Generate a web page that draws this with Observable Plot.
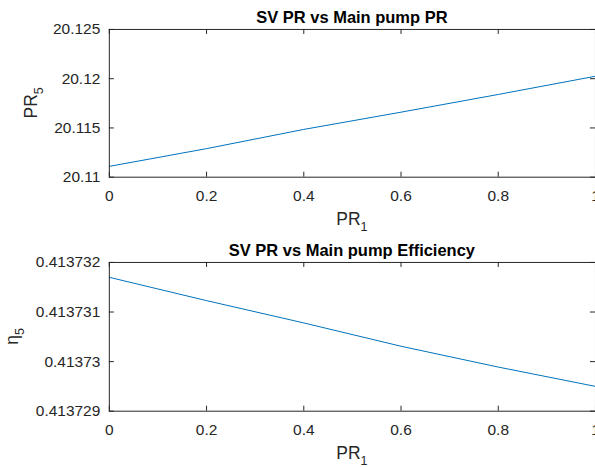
<!DOCTYPE html>
<html>
<head>
<meta charset="utf-8">
<script src="https://cdn.jsdelivr.net/npm/d3@7"></script>
<script src="https://cdn.jsdelivr.net/npm/@observablehq/plot@0.6"></script>
<style>
  body { margin: 0; background: #fff; }
  #chart { width: 595px; height: 467px; overflow: hidden; background: #fff; }
  #chart svg { display: block; }
</style>
</head>
<body>
<div id="chart"></div>
<script>
// Main pump pressure ratio (PR1) samples
const pr1 = [0, 0.2, 0.4, 0.6, 0.8, 1];
// SV pressure ratio (PR5) against PR1
const pr5 = [20.1111, 20.1129, 20.11485, 20.1166, 20.1184, 20.12025];
// SV efficiency (eta5) against PR1
const eta5 = [0.4137317, 0.41373123, 0.41373078, 0.41373031, 0.41372989, 0.4137295];

const xTicks = [0, 0.2, 0.4, 0.6, 0.8, 1];
const pr5Ticks = [20.11, 20.115, 20.12, 20.125];
const eta5Ticks = [0.413729, 0.41373, 0.413731, 0.413732];

const W = 596, MT = 29, MB = 56, ML = 109, MR = 0, TICK = 5;
const FONT = "'Liberation Sans', Arial, Helvetica, sans-serif";
const INK = "#262626";

function panel({ys, yDomain, yTicks, title, yLabel, yLabelX, yLabelSub, height}) {
  const plotH = height - MT - MB;
  const plotW = W - ML - MR;
  const data = pr1.map((x, i) => ({x, y: ys[i]}));
  const svg = Plot.plot({
    width: W, height,
    marginTop: MT, marginBottom: MB, marginLeft: ML, marginRight: MR,
    style: {fontFamily: FONT, color: INK, background: "white", overflow: "visible"},
    x: {domain: [0, 1]},
    y: {domain: yDomain},
    marks: [
      Plot.line(data, {x: "x", y: "y", stroke: "#0072BD", strokeWidth: 1}),
      Plot.frame({stroke: INK, strokeWidth: 1}),
      // inward tick marks on all four sides
      Plot.tickX(xTicks, {x: d => d, insetTop: plotH - TICK, stroke: INK}),
      Plot.tickX(xTicks, {x: d => d, insetBottom: plotH - TICK, stroke: INK}),
      Plot.tickY(yTicks, {y: d => d, insetRight: plotW - TICK, stroke: INK}),
      Plot.tickY(yTicks, {y: d => d, insetLeft: plotW - TICK, stroke: INK}),
      Plot.axisX(xTicks, {anchor: "bottom", tickSize: 0, tickPadding: 13, fontSize: 15.5,
        tickFormat: d => String(d), label: null}),
      Plot.axisY(yTicks, {anchor: "left", tickSize: 0, tickPadding: 9, fontSize: 15.5,
        tickFormat: d => String(d), label: null})
    ]
  });
  const s = d3.select(svg);
  const cx = ML + plotW / 2;
  s.append("text")
    .attr("x", cx).attr("y", 23)
    .attr("text-anchor", "middle")
    .attr("font-family", FONT).attr("font-size", 16.5).attr("font-weight", "bold")
    .attr("fill", "#000")
    .text(title);
  const xl = s.append("text")
    .attr("x", cx).attr("y", height - MB + 48)
    .attr("text-anchor", "middle")
    .attr("font-family", FONT).attr("font-size", 17.5)
    .attr("fill", INK);
  xl.append("tspan").text("PR");
  xl.append("tspan").attr("font-size", 12.5).attr("dy", 6).text("1");
  const yl = s.append("text")
    .attr("transform", `translate(${yLabelX},${MT + plotH / 2}) rotate(-90)`)
    .attr("text-anchor", "middle")
    .attr("font-family", FONT).attr("font-size", 17.5)
    .attr("fill", INK);
  yl.append("tspan").text(yLabel);
  yl.append("tspan").attr("font-size", 12.5).attr("dy", 6).text(yLabelSub);
  return svg;
}

const chart = document.getElementById("chart");
chart.append(panel({
  ys: pr5, yDomain: [20.11, 20.125], yTicks: pr5Ticks,
  title: "SV PR vs Main pump PR", yLabel: "PR", yLabelSub: "5", yLabelX: 37, height: 233
}));
chart.append(panel({
  ys: eta5, yDomain: [0.413729, 0.413732], yTicks: eta5Ticks,
  title: "SV PR vs Main pump Efficiency", yLabel: "η", yLabelSub: "5", yLabelX: 18, height: 234
}));
</script>
</body>
</html>
